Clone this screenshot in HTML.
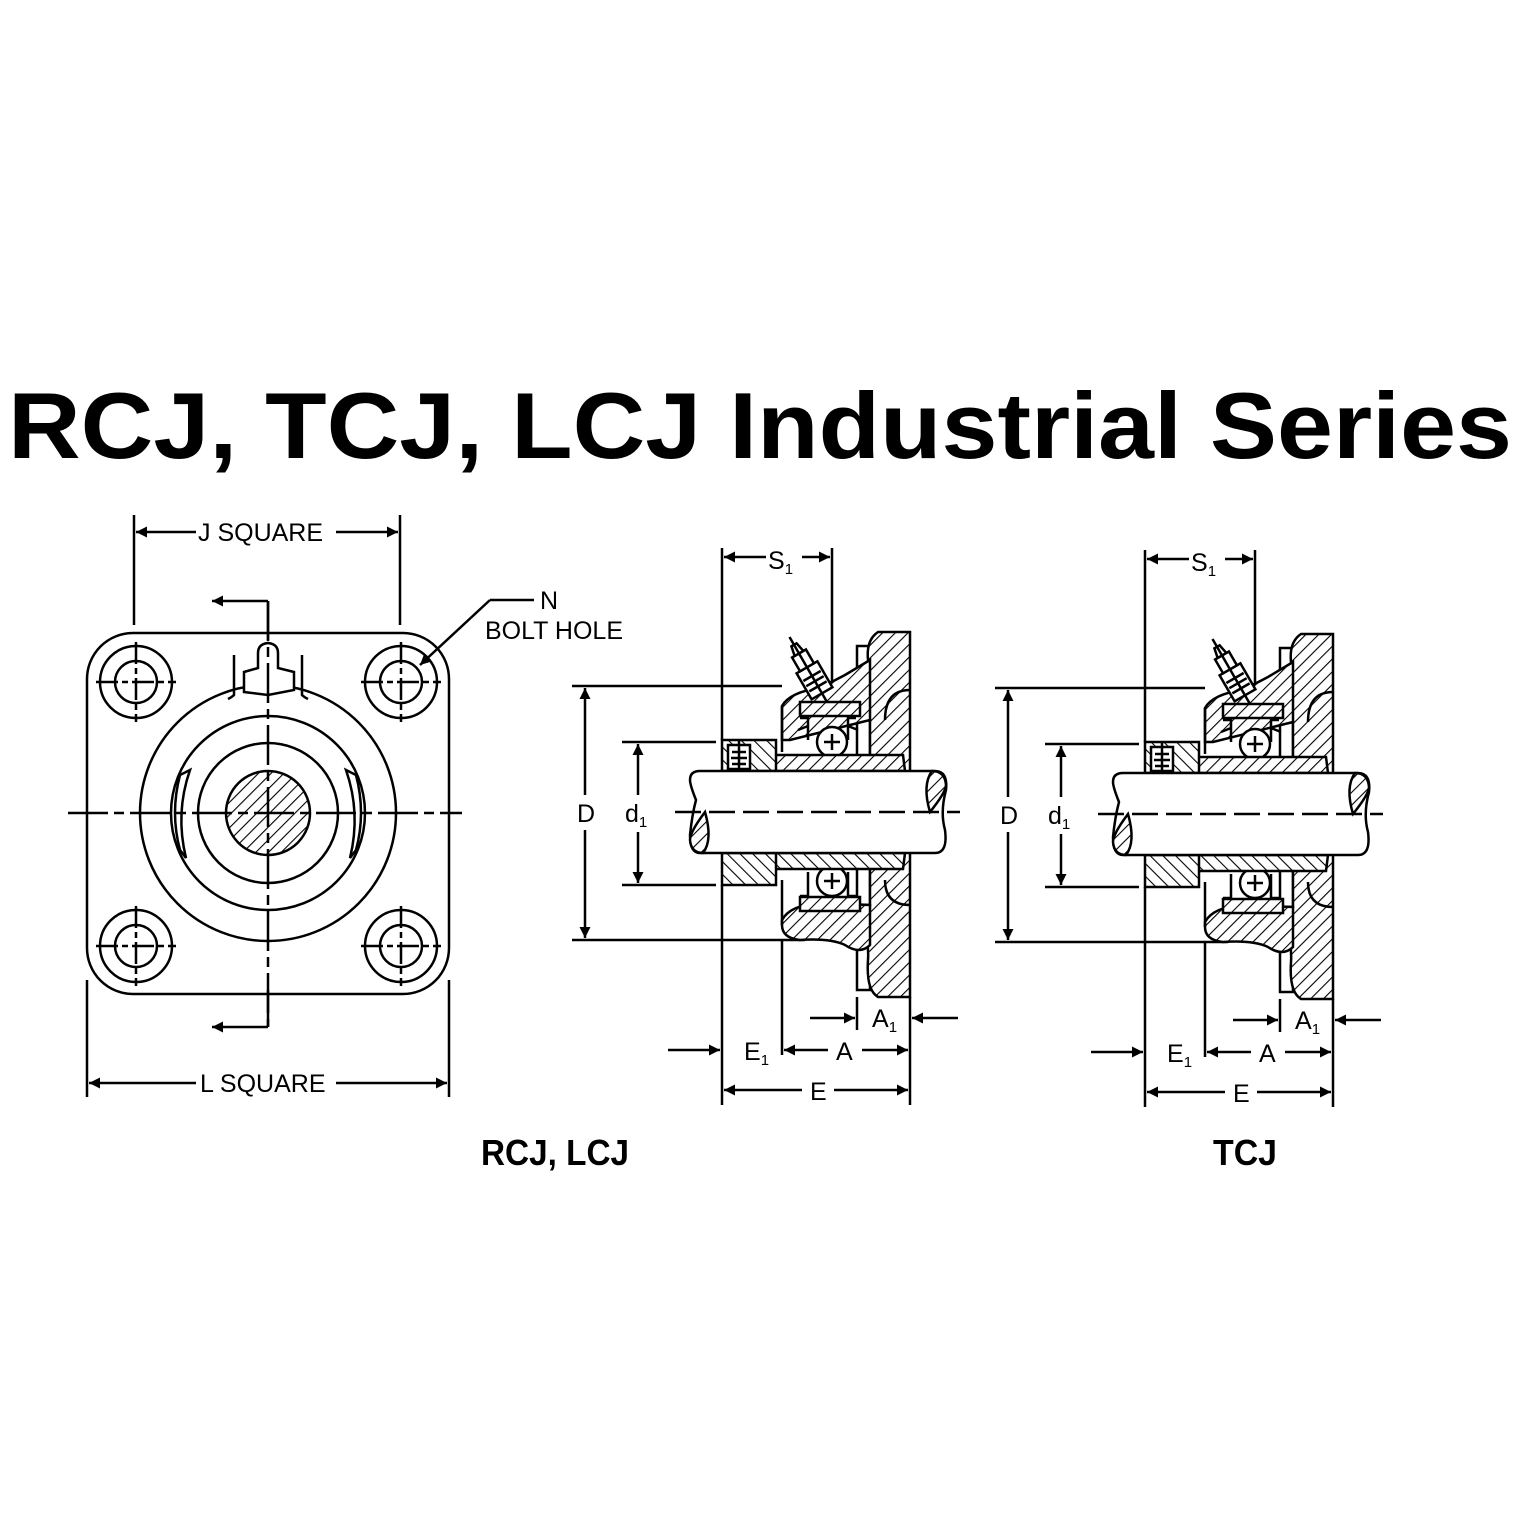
<!DOCTYPE html>
<html><head><meta charset="utf-8"><style>
html,body{margin:0;padding:0;background:#fff;}
svg{display:block;}
text{font-family:"Liberation Sans",Arial,sans-serif;fill:#000;}
</style></head><body>
<svg width="1520" height="1520" viewBox="0 0 1520 1520" xmlns="http://www.w3.org/2000/svg">
<defs>
<pattern id="h" width="9" height="9" patternUnits="userSpaceOnUse" patternTransform="rotate(45)">
<rect width="9" height="9" fill="#fff"/><line x1="0" y1="0" x2="0" y2="9" stroke="#000" stroke-width="2.2"/>
</pattern>
<pattern id="h2" width="9" height="9" patternUnits="userSpaceOnUse" patternTransform="rotate(-45)">
<rect width="9" height="9" fill="#fff"/><line x1="0" y1="0" x2="0" y2="9" stroke="#000" stroke-width="2.2"/>
</pattern>
<marker id="ar" viewBox="0 0 10 10" refX="10" refY="5" markerWidth="20" markerHeight="11" orient="auto-start-reverse" markerUnits="userSpaceOnUse">
<path d="M0,0 L10,5 L0,10 z" fill="#000"/></marker>
<g id="side" stroke="#000" stroke-width="2.5" fill="none">
  <line x1="722" y1="548" x2="722" y2="740"/>
  <line x1="722" y1="885" x2="722" y2="1105"/>
  <line x1="832" y1="548" x2="832" y2="700"/>
  <line x1="766" y1="557" x2="724" y2="557" marker-end="url(#ar)"/>
  <line x1="802" y1="557" x2="830" y2="557" marker-end="url(#ar)"/>
  <line x1="572" y1="686" x2="782" y2="686"/>
  <line x1="572" y1="940" x2="805" y2="940"/>
  <line x1="585" y1="795" x2="585" y2="688" marker-end="url(#ar)"/>
  <line x1="585" y1="830" x2="585" y2="938" marker-end="url(#ar)"/>
  <line x1="622" y1="742" x2="716" y2="742"/>
  <line x1="622" y1="885" x2="716" y2="885"/>
  <line x1="638" y1="795" x2="638" y2="744" marker-end="url(#ar)"/>
  <line x1="638" y1="832" x2="638" y2="883" marker-end="url(#ar)"/>
  <rect x="857" y="646" width="13" height="344" fill="#fff"/>
  <path d="M878,632 L910,632 L910,997 L878,997 Q866,990 868,960 Q870,930 850,915 L840,905 L870,905 L870,720 L845,725 Q872,690 868,660 Q866,640 878,632 Z" fill="url(#h)"/>
  <path d="M910,690 Q885,690 885,720" />
  <path d="M910,905 Q885,905 885,880" />
  <path d="M782,706 Q790,692 820,688 L845,675 L870,660 L870,720 L850,725 L790,740 L782,740 Z" fill="url(#h)"/>
  <line x1="782" y1="706" x2="782" y2="752"/>
  <path d="M782,920 Q790,905 820,903 L870,905 L870,945 Q860,955 845,945 Q830,938 800,940 Q782,938 782,925 Z" fill="url(#h)"/>
  <line x1="782" y1="880" x2="782" y2="925"/>
  <rect x="800" y="702" width="60" height="14" fill="url(#h)"/>
  <rect x="800" y="897" width="60" height="14" fill="url(#h)"/>
  <g transform="translate(812,676) rotate(-30)">
    <rect x="-12" y="-10" width="24" height="30" fill="#fff"/>
    <line x1="-10" y1="0" x2="10" y2="0"/><line x1="-10" y1="6" x2="10" y2="6"/><line x1="-10" y1="12" x2="10" y2="12"/>
    <rect x="-8" y="-26" width="16" height="16" fill="#fff"/>
    <path d="M-5,-26 L-3,-36 L3,-36 L5,-26"/>
    <line x1="0" y1="-45" x2="0" y2="30"/>
  </g>
  <path d="M800,718 L808,718 L808,740 M856,718 L848,718 L848,740 M798,730 l10,-4 M858,730 l-10,-4"/>
  <path d="M800,896 L808,896 L808,872 M856,896 L848,896 L848,872"/>
  <circle cx="832" cy="742" r="15" fill="#fff"/>
  <line x1="824" y1="742" x2="840" y2="742"/><line x1="832" y1="734" x2="832" y2="750"/>
  <circle cx="832" cy="881" r="15" fill="#fff"/>
  <line x1="824" y1="881" x2="840" y2="881"/><line x1="832" y1="873" x2="832" y2="889"/>
  <path d="M762,771 L762,762 L768,755 L903,755 L905,771 Z" fill="url(#h)"/>
  <path d="M762,853 L762,862 L768,869 L903,869 L905,853 Z" fill="url(#h2)"/>
  <rect x="722" y="740" width="54" height="31" fill="url(#h2)"/>
  <rect x="728" y="745" width="22" height="24" fill="#fff"/>
  <line x1="732" y1="752" x2="746" y2="752"/><line x1="731" y1="758" x2="747" y2="758"/><line x1="732" y1="764" x2="746" y2="764"/>
  <line x1="739" y1="740" x2="739" y2="780"/>
  <rect x="722" y="853" width="54" height="32" fill="url(#h2)"/>
  <path d="M700,771 L935,771 Q948,771 946,790 Q940,812 945,830 Q948,853 935,853 L700,853 Q690,853 690,835 Q692,815 696,800 Q690,785 690,780 Q690,771 700,771 Z" fill="#fff"/>
  <path d="M932,771 Q922,785 930,812 Q946,792 946,785 Q945,771 932,771 Z" fill="url(#h)"/>
  <path d="M703,853 Q713,840 705,812 Q690,832 690,840 Q691,853 703,853 Z" fill="url(#h)"/>
  <line x1="675" y1="812" x2="960" y2="812" stroke-dasharray="26,8"/>
  <line x1="857" y1="997" x2="857" y2="1030"/>
  <line x1="910" y1="997" x2="910" y2="1105"/>
  <line x1="782" y1="940" x2="782" y2="1055"/>
  <line x1="810" y1="1018" x2="855" y2="1018" marker-end="url(#ar)"/>
  <line x1="958" y1="1018" x2="912" y2="1018" marker-end="url(#ar)"/>
  <line x1="668" y1="1050" x2="720" y2="1050" marker-end="url(#ar)"/>
  <line x1="828" y1="1050" x2="784" y2="1050" marker-end="url(#ar)"/>
  <line x1="862" y1="1050" x2="908" y2="1050" marker-end="url(#ar)"/>
  <line x1="802" y1="1090" x2="724" y2="1090" marker-end="url(#ar)"/>
  <line x1="834" y1="1090" x2="908" y2="1090" marker-end="url(#ar)"/>
  <g stroke="none" fill="#000" font-size="25">
    <text x="768" y="569">S<tspan font-size="15" dy="5">1</tspan></text>
    <text x="577" y="822">D</text>
    <text x="625" y="822">d<tspan font-size="15" dy="5">1</tspan></text>
    <text x="872" y="1027">A<tspan font-size="15" dy="5">1</tspan></text>
    <text x="744" y="1060">E<tspan font-size="15" dy="5">1</tspan></text>
    <text x="836" y="1060">A</text>
    <text x="810" y="1100">E</text>
  </g>
</g>
</defs>

<text x="8" y="458" font-size="94" font-weight="bold" textLength="1504" lengthAdjust="spacingAndGlyphs">RCJ, TCJ, LCJ Industrial Series</text>

<g stroke="#000" stroke-width="2.5" fill="none">
  <rect x="87" y="633" width="362" height="361" rx="46"/>
  <line x1="134" y1="515" x2="134" y2="625"/>
  <line x1="400" y1="515" x2="400" y2="625"/>
  <line x1="196" y1="532" x2="136" y2="532" marker-end="url(#ar)"/>
  <line x1="336" y1="532" x2="398" y2="532" marker-end="url(#ar)"/>
  <line x1="87" y1="980" x2="87" y2="1097"/>
  <line x1="449" y1="980" x2="449" y2="1097"/>
  <line x1="196" y1="1083" x2="89" y2="1083" marker-end="url(#ar)"/>
  <line x1="336" y1="1083" x2="447" y2="1083" marker-end="url(#ar)"/>
  <g id="bh">
    <circle cx="136" cy="682" r="36"/><circle cx="136" cy="682" r="21"/>
    <line x1="96" y1="682" x2="176" y2="682" stroke-dasharray="22,4,6,4"/>
    <line x1="136" y1="642" x2="136" y2="722" stroke-dasharray="22,4,6,4"/>
  </g>
  <use href="#bh" x="265" y="0"/>
  <use href="#bh" x="0" y="264"/>
  <use href="#bh" x="265" y="264"/>
  <circle cx="268" cy="813" r="128" fill="#fff"/>
  <path d="M180,775 Q170,813 180,850 L186,858 Q175,813 190,770 Z" fill="#fff"/>
  <path d="M356,775 Q366,813 356,850 L350,858 Q361,813 346,770 Z" fill="#fff"/>
  <circle cx="268" cy="813" r="97"/>
  <circle cx="268" cy="813" r="70"/>
  <circle cx="268" cy="813" r="42" fill="url(#h)"/>
  <path d="M244,692 L244,672 L258,668 L258,653 Q258,644 268,643 Q278,644 278,653 L278,668 L294,672 L294,690 L268,695 Z" fill="#fff"/>
  <path d="M234,655 L234,695 Q232,697 228,699 M302,655 L302,695 Q304,697 308,699"/>
  <line x1="68" y1="813" x2="462" y2="813" stroke-dasharray="40,6,10,6"/>
  <line x1="268" y1="601" x2="268" y2="1027" stroke-dasharray="40,6,10,6"/>
  <line x1="268" y1="601" x2="268" y2="640"/>
  <line x1="268" y1="990" x2="268" y2="1027"/>
  <line x1="268" y1="601" x2="212" y2="601" marker-end="url(#ar)"/>
  <line x1="268" y1="1027" x2="212" y2="1027" marker-end="url(#ar)"/>
  <line x1="490" y1="600" x2="534" y2="600"/>
  <line x1="490" y1="600" x2="420" y2="665" marker-end="url(#ar)"/>
</g>
<g font-size="25">
  <text x="198" y="541">J SQUARE</text>
  <text x="200" y="1092">L SQUARE</text>
  <text x="540" y="609">N</text>
  <text x="485" y="639">BOLT HOLE</text>
</g>

<use href="#side"/>
<use href="#side" x="423" y="2"/>

<text x="481" y="1165" font-size="36" font-weight="bold" textLength="148" lengthAdjust="spacingAndGlyphs">RCJ, LCJ</text>
<text x="1213" y="1165" font-size="36" font-weight="bold" textLength="64" lengthAdjust="spacingAndGlyphs">TCJ</text>
</svg>
</body></html>
